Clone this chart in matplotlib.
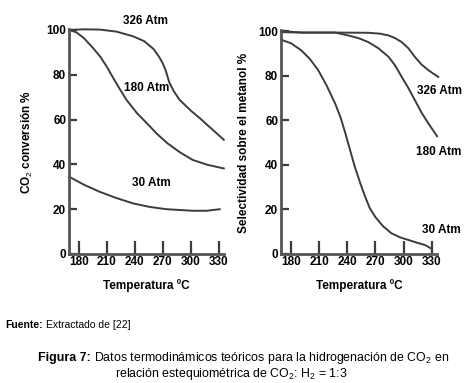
import matplotlib
matplotlib.use("Agg")
import matplotlib.pyplot as plt

# ── data ────────────────────────────────────────────────────────────────────
XTICKS = [180, 210, 240, 270, 300, 330]
YTICKS = [0, 20, 40, 60, 80, 100]

# left panel: CO2 conversion %
conv_326_t = [169.5, 185, 202, 220, 238, 250, 260, 266, 270, 273, 277, 282, 288, 300, 310, 322, 335.4]
conv_326_y = [100, 100.3, 100.2, 99.3, 97.2, 95, 91.5, 88, 85, 82, 76.5, 72.5, 68.8, 64, 60.5, 56, 51]
conv_180_t = [169.5, 177, 185, 195, 203, 210, 217, 224, 231, 242, 253, 264, 275, 288, 302, 318, 335.4]
conv_180_y = [100, 99, 96.5, 92, 88, 83.5, 78.4, 73.5, 68.8, 63, 58.3, 53.5, 49.4, 45.5, 42, 39.8, 38.2]
conv_30_t = [169.5, 185, 202, 220, 238, 256, 274, 290, 302, 317, 331]
conv_30_y = [34.5, 31, 27.8, 25, 22.6, 21, 20, 19.6, 19.3, 19.3, 20]

# right panel: methanol selectivity %
sel_326_t = [169.5, 191, 227, 262, 275, 284, 291, 298, 305, 312, 319, 326.5, 332, 337]
sel_326_y = [100, 99.3, 99.3, 99.2, 98.8, 98, 96.8, 95, 92.3, 88.4, 85, 82.4, 80.8, 79.4]
sel_180_t = [169.5, 190, 227, 241, 252, 262.5, 273, 284, 291, 298, 305, 312, 319, 326.5, 335.7]
sel_180_y = [99.5, 99.3, 99.3, 98, 96.8, 95, 92.3, 88.4, 84.5, 79.4, 74.5, 69, 63.5, 58.5, 52.8]
sel_30_t = [169.5, 180, 191, 200, 209, 218, 227, 233, 238, 243, 248, 254, 259, 264, 270, 278, 287, 296, 305, 314, 323, 330]
sel_30_y = [96.1, 94.5, 91.3, 87.5, 82.4, 75.5, 67.5, 61, 54, 46.5, 39.1, 31.5, 25.7, 20.5, 16.5, 12.5, 9.3, 7.5, 6.3, 5.1, 4, 2.3]

LINE = "#3c3c3c"
AXIS = "#555555"

plt.rcParams.update({
    "font.family": ["Liberation Sans", "DejaVu Sans"],
    "mathtext.fontset": "custom",
    "mathtext.rm": "Liberation Sans",
    "mathtext.it": "Liberation Sans",
    "mathtext.bf": "Liberation Sans:bold",
})

W, H = 469, 383
fig = plt.figure(figsize=(W / 100, H / 100), dpi=100)


def px_axes(x0, x1, y_top, y_bot):
    return fig.add_axes([x0 / W, 1 - y_bot / H, (x1 - x0) / W, (y_bot - y_top) / H])


def style(ax, ylabel, ylab_x):
    ax.set_xlim(169.3, 335.6)
    ax.set_ylim(0, 100)
    for s in ("top", "right"):
        ax.spines[s].set_visible(False)
    for s in ("left", "bottom"):
        ax.spines[s].set_color(AXIS)
        ax.spines[s].set_linewidth(2)
    ax.spines["left"].set_bounds(0, 100.5)
    ax.set_xticks(XTICKS)
    ax.set_yticks(YTICKS)
    ax.tick_params(axis="x", direction="in", length=9.5, width=1.6, color=LINE,
                   pad=1.5, labelsize=8.5)
    ax.tick_params(axis="y", direction="in", length=6, width=1.6, color=LINE,
                   pad=2, labelsize=8.5)
    for lab in ax.get_xticklabels() + ax.get_yticklabels():
        lab.set_fontweight("bold")
    ax.set_xlabel("Temperatura ºC", fontsize=8.5, fontweight="bold", labelpad=8)
    ax.set_ylabel(ylabel, fontsize=8.5, fontweight="bold")
    ax.yaxis.set_label_coords(ylab_x, 0.5)


ax1 = px_axes(69, 224, 30, 254)
for t, y in [(conv_326_t, conv_326_y), (conv_180_t, conv_180_y), (conv_30_t, conv_30_y)]:
    ax1.plot(t, y, color=LINE, lw=1.4, clip_on=False)
style(ax1, "CO$_2$ conversión %", -0.219)
ax1.text(251, 101.5, "326 Atm", ha="center", va="bottom", fontsize=8.5, fontweight="bold")
ax1.text(252.5, 74, "180 Atm", ha="center", va="center", fontsize=8.5, fontweight="bold")
ax1.text(258, 31.5, "30 Atm", ha="center", va="center", fontsize=8.5, fontweight="bold")

ax2 = px_axes(281, 437, 31, 254)
for t, y in [(sel_326_t, sel_326_y), (sel_180_t, sel_180_y), (sel_30_t, sel_30_y)]:
    ax2.plot(t, y, color=LINE, lw=1.4, clip_on=False)
style(ax2, "Selectividad sobre el metanol %", -0.199)
ax2.text(338, 73, "326 Atm", ha="center", va="center", fontsize=8.5, fontweight="bold", clip_on=False)
ax2.text(337, 45.8, "180 Atm", ha="center", va="center", fontsize=8.5, fontweight="bold", clip_on=False)
ax2.text(340.5, 10.7, "30 Atm", ha="center", va="center", fontsize=8.5, fontweight="bold", clip_on=False)


def lead_text(x_px, y_px, bold, rest, size):
    """Bold lead word followed by regular text on the same baseline."""
    lead = fig.text(x_px / W, 1 - y_px / H, bold, fontsize=size, fontweight="bold",
                    va="baseline", ha="left")
    ext = lead.get_window_extent(renderer=fig.canvas.get_renderer())
    fig.text(ext.x1 / W + 3 / W, 1 - y_px / H, rest, fontsize=size,
             va="baseline", ha="left")


lead_text(5, 328, "Fuente:", "Extractado de [22]", 7.5)
lead_text(38, 361, "Figura 7:", "Datos termodinámicos teóricos para la hidrogenación de CO$_2$ en", 8.9)
fig.text(231 / W, 1 - 377 / H, "relación estequiométrica de CO$_2$: H$_2$ = 1:3",
         fontsize=8.9, va="baseline", ha="center")

fig.savefig("out.png", dpi=100)
